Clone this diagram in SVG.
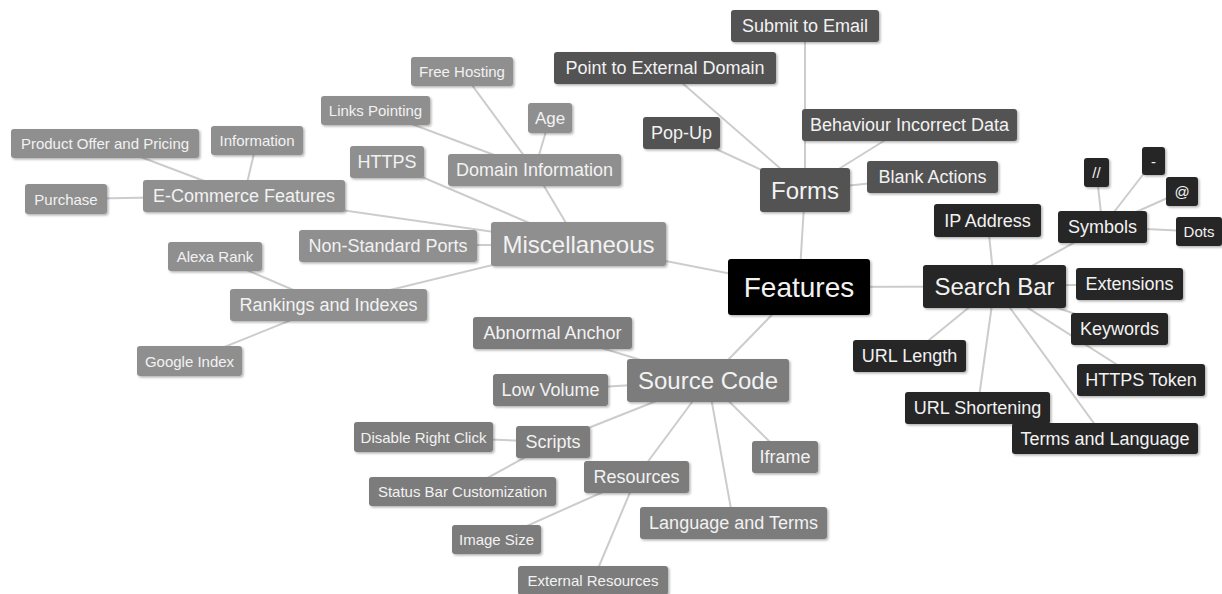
<svg xmlns="http://www.w3.org/2000/svg" width="1222" height="594" viewBox="0 0 1222 594">
<defs>
<filter id="sh" x="-10%" y="-20%" width="130%" height="160%">
<feDropShadow dx="1.5" dy="1.5" stdDeviation="1" flood-color="#000" flood-opacity="0.3"/>
</filter>
</defs>
<style>
rect{rx:3px;ry:3px;filter:url(#sh)}
text{font-family:"Liberation Sans",Arial,sans-serif;fill:#f2f2f2;text-anchor:middle;dominant-baseline:central}
.root rect{fill:#000}
.misc rect{fill:#8f8f8f}
.src rect{fill:#7b7b7b}
.form rect{fill:#535353}
.srch rect{fill:#262626}
.t28{font-size:28px}
.t24{font-size:24px}
.t18{font-size:18px}
.t17{font-size:17px}
.t15{font-size:15px}
#connectors line{stroke:#cccccc;stroke-width:2}
</style>
<rect width="1222" height="594" fill="#fff" style="filter:none"/>
<g id="connectors">
<line x1="799" y1="287" x2="805" y2="190"/>
<line x1="799" y1="287" x2="994.5" y2="286.5"/>
<line x1="799" y1="287" x2="578.5" y2="244"/>
<line x1="799" y1="287" x2="708" y2="380.5"/>
<line x1="805" y1="190" x2="805" y2="26"/>
<line x1="805" y1="190" x2="665" y2="68"/>
<line x1="805" y1="190" x2="681.5" y2="133"/>
<line x1="805" y1="190" x2="909.5" y2="125"/>
<line x1="805" y1="190" x2="932.5" y2="177"/>
<line x1="994.5" y1="286.5" x2="987.5" y2="220.5"/>
<line x1="994.5" y1="286.5" x2="1102.5" y2="227"/>
<line x1="994.5" y1="286.5" x2="1129.5" y2="284"/>
<line x1="994.5" y1="286.5" x2="1119.5" y2="329"/>
<line x1="994.5" y1="286.5" x2="1141" y2="380"/>
<line x1="994.5" y1="286.5" x2="1105" y2="438.5"/>
<line x1="994.5" y1="286.5" x2="977.5" y2="408"/>
<line x1="994.5" y1="286.5" x2="909.5" y2="356"/>
<line x1="1102.5" y1="227" x2="1096.5" y2="172.5"/>
<line x1="1102.5" y1="227" x2="1153.5" y2="161"/>
<line x1="1102.5" y1="227" x2="1182" y2="191.5"/>
<line x1="1102.5" y1="227" x2="1199" y2="231.5"/>
<line x1="578.5" y1="244" x2="534.5" y2="170"/>
<line x1="578.5" y1="244" x2="387" y2="162"/>
<line x1="578.5" y1="244" x2="244" y2="196"/>
<line x1="578.5" y1="244" x2="388" y2="246"/>
<line x1="578.5" y1="244" x2="328.5" y2="305"/>
<line x1="534.5" y1="170" x2="462" y2="71.5"/>
<line x1="534.5" y1="170" x2="375.5" y2="110.5"/>
<line x1="534.5" y1="170" x2="550" y2="118"/>
<line x1="244" y1="196" x2="105" y2="143.5"/>
<line x1="244" y1="196" x2="257" y2="140.5"/>
<line x1="244" y1="196" x2="66" y2="199"/>
<line x1="328.5" y1="305" x2="215" y2="256.5"/>
<line x1="328.5" y1="305" x2="189.5" y2="361"/>
<line x1="708" y1="380.5" x2="552.5" y2="333"/>
<line x1="708" y1="380.5" x2="550.5" y2="390"/>
<line x1="708" y1="380.5" x2="553" y2="442"/>
<line x1="708" y1="380.5" x2="636.5" y2="477"/>
<line x1="708" y1="380.5" x2="785" y2="457"/>
<line x1="708" y1="380.5" x2="733.5" y2="523"/>
<line x1="553" y1="442" x2="423.5" y2="437"/>
<line x1="553" y1="442" x2="462.5" y2="491.5"/>
<line x1="636.5" y1="477" x2="496.5" y2="539.5"/>
<line x1="636.5" y1="477" x2="593" y2="580.5"/>
</g>
<g id="n-features" class="root"><rect x="728" y="259" width="142" height="56"/><text class="t28" x="799" y="287">Features</text></g>
<g id="n-forms" class="form"><rect x="760" y="168" width="90" height="44"/><text class="t24" x="805" y="190">Forms</text></g>
<g id="n-submit" class="form"><rect x="731" y="10" width="148" height="32"/><text class="t18" x="805" y="26">Submit to Email</text></g>
<g id="n-point" class="form"><rect x="554" y="52" width="222" height="32"/><text class="t18" x="665" y="68">Point to External Domain</text></g>
<g id="n-popup" class="form"><rect x="643" y="117" width="77" height="32"/><text class="t18" x="681.5" y="133">Pop-Up</text></g>
<g id="n-behaviour" class="form"><rect x="802" y="109" width="215" height="32"/><text class="t18" x="909.5" y="125">Behaviour Incorrect Data</text></g>
<g id="n-blank" class="form"><rect x="867" y="161" width="131" height="32"/><text class="t18" x="932.5" y="177">Blank Actions</text></g>
<g id="n-searchbar" class="srch"><rect x="923" y="265" width="143" height="43"/><text class="t24" x="994.5" y="286.5">Search Bar</text></g>
<g id="n-ip" class="srch"><rect x="934" y="204" width="107" height="33"/><text class="t18" x="987.5" y="220.5">IP Address</text></g>
<g id="n-symbols" class="srch"><rect x="1058" y="211" width="89" height="32"/><text class="t18" x="1102.5" y="227">Symbols</text></g>
<g id="n-slash" class="srch"><rect x="1084" y="158" width="25" height="29"/><text class="t15" x="1096.5" y="172.5">//</text></g>
<g id="n-dash" class="srch"><rect x="1142" y="147" width="23" height="28"/><text class="t15" x="1153.5" y="161">-</text></g>
<g id="n-at" class="srch"><rect x="1166" y="177" width="32" height="29"/><text class="t15" x="1182" y="191.5">@</text></g>
<g id="n-dots" class="srch"><rect x="1176" y="217" width="46" height="29"/><text class="t15" x="1199" y="231.5">Dots</text></g>
<g id="n-ext" class="srch"><rect x="1076" y="268" width="107" height="32"/><text class="t18" x="1129.5" y="284">Extensions</text></g>
<g id="n-keywords" class="srch"><rect x="1071" y="313" width="97" height="32"/><text class="t18" x="1119.5" y="329">Keywords</text></g>
<g id="n-urllen" class="srch"><rect x="853" y="340" width="113" height="32"/><text class="t18" x="909.5" y="356">URL Length</text></g>
<g id="n-httpstoken" class="srch"><rect x="1077" y="364" width="128" height="32"/><text class="t18" x="1141" y="380">HTTPS Token</text></g>
<g id="n-urlshort" class="srch"><rect x="905" y="392" width="145" height="32"/><text class="t18" x="977.5" y="408">URL Shortening</text></g>
<g id="n-termslang" class="srch"><rect x="1012" y="423" width="186" height="31"/><text class="t18" x="1105" y="438.5">Terms and Language</text></g>
<g id="n-misc" class="misc"><rect x="491" y="222" width="175" height="44"/><text class="t24" x="578.5" y="244">Miscellaneous</text></g>
<g id="n-domain" class="misc"><rect x="448" y="154" width="173" height="32"/><text class="t18" x="534.5" y="170">Domain Information</text></g>
<g id="n-freehost" class="misc"><rect x="411" y="57" width="102" height="29"/><text class="t15" x="462" y="71.5">Free Hosting</text></g>
<g id="n-links" class="misc"><rect x="321" y="96" width="109" height="29"/><text class="t15" x="375.5" y="110.5">Links Pointing</text></g>
<g id="n-age" class="misc"><rect x="528" y="103" width="44" height="30"/><text class="t17" x="550" y="118">Age</text></g>
<g id="n-https" class="misc"><rect x="350" y="146" width="74" height="32"/><text class="t18" x="387" y="162">HTTPS</text></g>
<g id="n-ecom" class="misc"><rect x="143" y="180" width="202" height="32"/><text class="t18" x="244" y="196">E-Commerce Features</text></g>
<g id="n-product" class="misc"><rect x="11" y="129" width="188" height="29"/><text class="t15" x="105" y="143.5">Product Offer and Pricing</text></g>
<g id="n-info" class="misc"><rect x="211" y="126" width="92" height="29"/><text class="t15" x="257" y="140.5">Information</text></g>
<g id="n-purchase" class="misc"><rect x="25" y="184" width="82" height="30"/><text class="t15" x="66" y="199">Purchase</text></g>
<g id="n-ports" class="misc"><rect x="299" y="230" width="178" height="32"/><text class="t18" x="388" y="246">Non-Standard Ports</text></g>
<g id="n-rank" class="misc"><rect x="230" y="289" width="197" height="32"/><text class="t18" x="328.5" y="305">Rankings and Indexes</text></g>
<g id="n-alexa" class="misc"><rect x="168" y="242" width="94" height="29"/><text class="t15" x="215" y="256.5">Alexa Rank</text></g>
<g id="n-google" class="misc"><rect x="137" y="346" width="105" height="30"/><text class="t15" x="189.5" y="361">Google Index</text></g>
<g id="n-source" class="src"><rect x="627" y="359" width="162" height="43"/><text class="t24" x="708" y="380.5">Source Code</text></g>
<g id="n-anchor" class="src"><rect x="473" y="317" width="159" height="32"/><text class="t18" x="552.5" y="333">Abnormal Anchor</text></g>
<g id="n-lowvol" class="src"><rect x="493" y="374" width="115" height="32"/><text class="t18" x="550.5" y="390">Low Volume</text></g>
<g id="n-scripts" class="src"><rect x="516" y="426" width="74" height="32"/><text class="t18" x="553" y="442">Scripts</text></g>
<g id="n-disable" class="src"><rect x="354" y="422" width="139" height="30"/><text class="t15" x="423.5" y="437">Disable Right Click</text></g>
<g id="n-status" class="src"><rect x="369" y="477" width="187" height="29"/><text class="t15" x="462.5" y="491.5">Status Bar Customization</text></g>
<g id="n-resources" class="src"><rect x="584" y="461" width="105" height="32"/><text class="t18" x="636.5" y="477">Resources</text></g>
<g id="n-imgsize" class="src"><rect x="452" y="525" width="89" height="29"/><text class="t15" x="496.5" y="539.5">Image Size</text></g>
<g id="n-extres" class="src"><rect x="518" y="566" width="150" height="29"/><text class="t15" x="593" y="580.5">External Resources</text></g>
<g id="n-iframe" class="src"><rect x="752" y="441" width="66" height="32"/><text class="t18" x="785" y="457">Iframe</text></g>
<g id="n-langterms" class="src"><rect x="640" y="507" width="187" height="32"/><text class="t18" x="733.5" y="523">Language and Terms</text></g>
</svg>
